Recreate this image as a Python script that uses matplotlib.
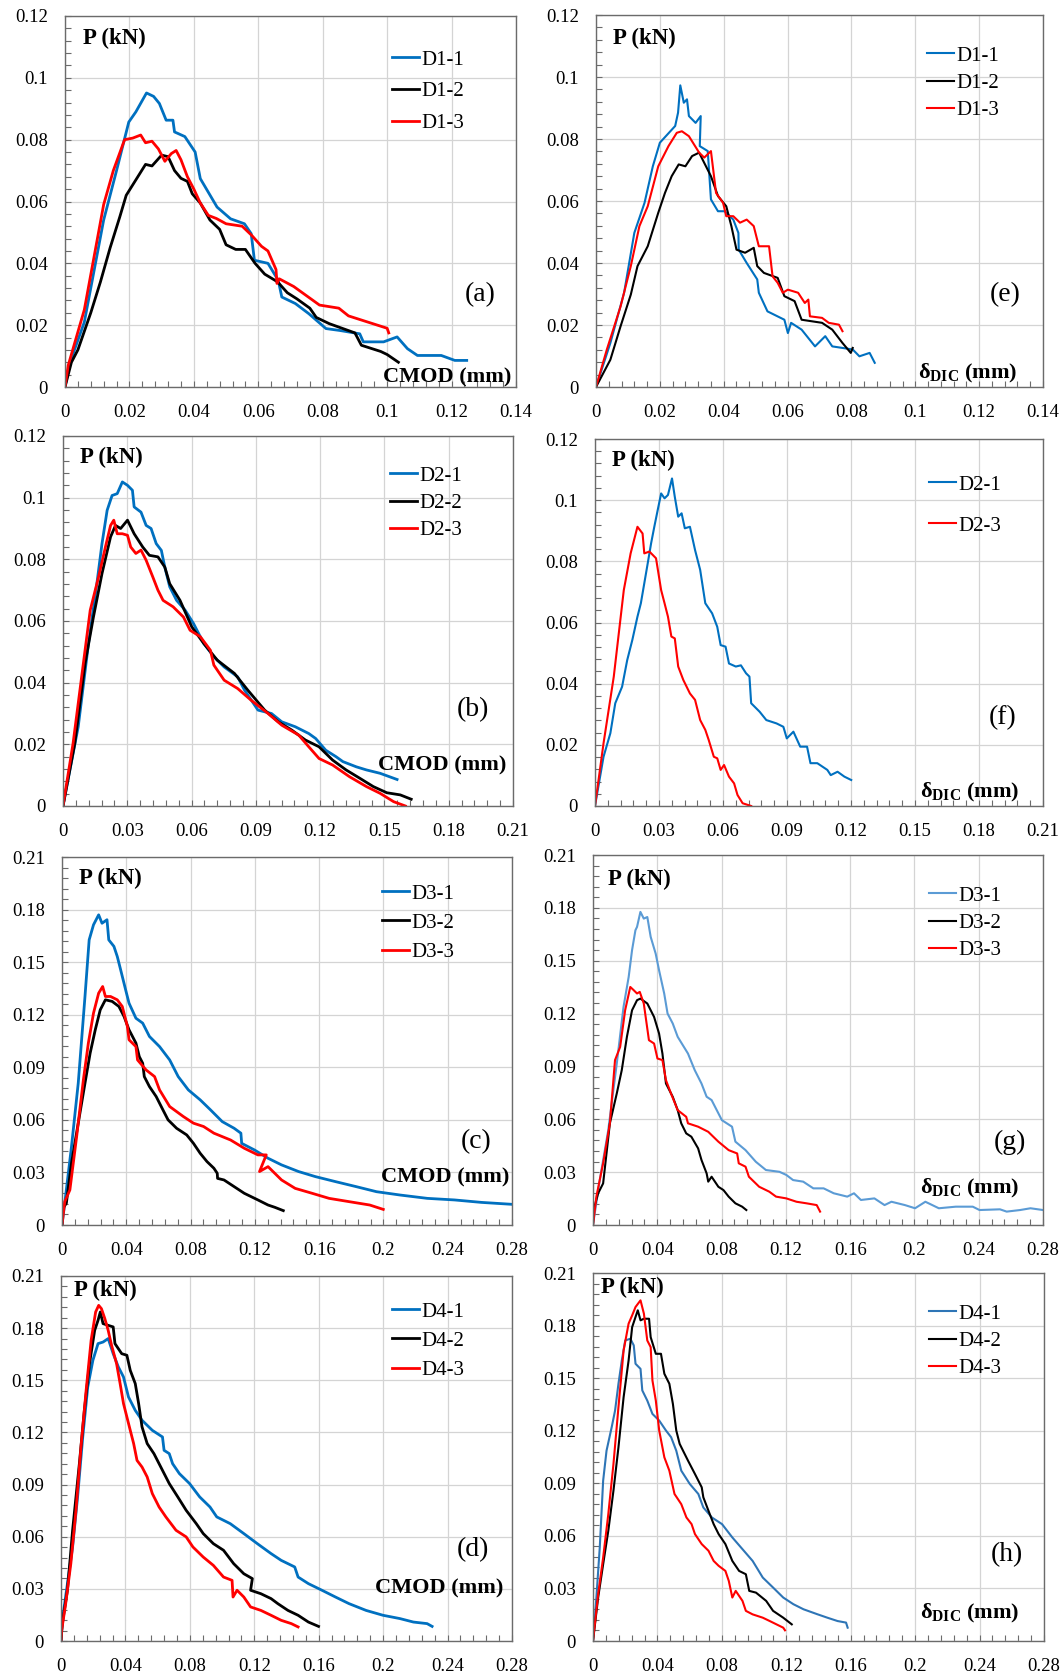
import matplotlib.pyplot as plt
from matplotlib.ticker import MultipleLocator, FuncFormatter

plt.rcParams['font.family'] = ['Liberation Serif', 'DejaVu Serif']
plt.rcParams['mathtext.fontset'] = 'custom'
plt.rcParams['mathtext.rm'] = 'Liberation Serif'
plt.rcParams['mathtext.bf'] = 'Liberation Serif:bold'

BLUE = '#0070C0'
BLUE_L = '#5B9BD5'
BLUE_M = '#2E75B6'
RED = '#FF0000'
BLACK = '#000000'

# ---------------- (a) CMOD, series D1
a1_x = [0, 0.0014, 0.006, 0.012, 0.016, 0.0198, 0.022, 0.0253, 0.0275, 0.0293, 0.0314, 0.0335, 0.034, 0.0372,
        0.0404, 0.042, 0.0472, 0.0514, 0.0557, 0.0578, 0.0588, 0.063, 0.0662, 0.0673, 0.0715, 0.0757, 0.081,
        0.0852, 0.0915, 0.0926, 0.0989, 0.1031, 0.1063, 0.1094, 0.1168, 0.121, 0.1247]
a1_y = [0, 0.0075, 0.021, 0.054, 0.070, 0.0857, 0.089, 0.0951, 0.094, 0.0917, 0.0863, 0.0863, 0.0825, 0.081,
        0.076, 0.0674, 0.0582, 0.0544, 0.0528, 0.0496, 0.041, 0.040, 0.0345, 0.0291, 0.027, 0.0237, 0.0189,
        0.0183, 0.0172, 0.0146, 0.0146, 0.0162, 0.0124, 0.0102, 0.0102, 0.0086, 0.0086]
a2_x = [0, 0.002, 0.004, 0.008, 0.011, 0.014, 0.017, 0.019, 0.022, 0.025, 0.027, 0.030, 0.032, 0.034, 0.036,
        0.038, 0.0395, 0.042, 0.045, 0.048, 0.050, 0.053, 0.056, 0.059, 0.062, 0.066, 0.069, 0.072, 0.074,
        0.076, 0.078, 0.082, 0.086, 0.090, 0.092, 0.095, 0.098, 0.100, 0.1035]
a2_y = [0, 0.008, 0.012, 0.024, 0.034, 0.045, 0.055, 0.062, 0.067, 0.072, 0.0715, 0.075, 0.0745, 0.070, 0.0675,
        0.0665, 0.0625, 0.0595, 0.054, 0.051, 0.046, 0.0445, 0.0445, 0.040, 0.0365, 0.034, 0.0305, 0.0285,
        0.027, 0.0255, 0.0225, 0.0205, 0.019, 0.0175, 0.0135, 0.0125, 0.0115, 0.0105, 0.008]
a3_x = [0, 0.001, 0.006, 0.012, 0.015, 0.0185, 0.021, 0.0235, 0.025, 0.027, 0.029, 0.031, 0.033, 0.0345, 0.036,
        0.038, 0.040, 0.042, 0.0445, 0.047, 0.050, 0.055, 0.058, 0.061, 0.063, 0.0655, 0.0658, 0.0665, 0.071,
        0.075, 0.079, 0.085, 0.088, 0.094, 0.097, 0.100, 0.1005]
a3_y = [0, 0.007, 0.025, 0.059, 0.070, 0.080, 0.0805, 0.0815, 0.079, 0.0795, 0.077, 0.073, 0.0755, 0.0765,
        0.0735, 0.068, 0.064, 0.0595, 0.0555, 0.0545, 0.0528, 0.052, 0.049, 0.0455, 0.044, 0.038, 0.0335, 0.035,
        0.0325, 0.0295, 0.0265, 0.0255, 0.023, 0.021, 0.020, 0.019, 0.0175]

# ---------------- (e) DIC, series D1
e1_x = [0, 0.0045, 0.0088, 0.012, 0.0152, 0.0178, 0.020, 0.0248, 0.0257, 0.0264, 0.0275, 0.0285, 0.0291, 0.0312,
        0.0328, 0.0325, 0.035, 0.036, 0.0382, 0.0403, 0.043, 0.0446, 0.0447, 0.0472, 0.0505, 0.051, 0.0537,
        0.059, 0.0601, 0.0611, 0.0644, 0.0686, 0.0718, 0.074, 0.0804, 0.0825, 0.0857, 0.0873]
e1_y = [0, 0.0142, 0.0304, 0.0497, 0.0594, 0.0712, 0.0788, 0.0842, 0.0885, 0.0973, 0.0917, 0.0928, 0.0874,
        0.0852, 0.0874, 0.0777, 0.0761, 0.0605, 0.0567, 0.0567, 0.054, 0.0497, 0.0443, 0.040, 0.0347, 0.0304,
        0.0244, 0.0217, 0.0174, 0.0207, 0.0185, 0.0131, 0.0164, 0.0131, 0.0121, 0.0099, 0.011, 0.0078]
e2_x = [0, 0.0045, 0.0077, 0.0109, 0.013, 0.0162, 0.0195, 0.0216, 0.0237, 0.0259, 0.028, 0.0301, 0.0323, 0.0339,
        0.036, 0.0382, 0.0408, 0.0424, 0.044, 0.0467, 0.0494, 0.0505, 0.0526, 0.0569, 0.059, 0.0622, 0.0644,
        0.0708, 0.074, 0.0772, 0.0798, 0.0804]
e2_y = [0, 0.0088, 0.0196, 0.0298, 0.039, 0.0454, 0.0562, 0.0626, 0.068, 0.0718, 0.0712, 0.0745, 0.0756, 0.0723,
        0.068, 0.0616, 0.0583, 0.0519, 0.0443, 0.0433, 0.0449, 0.039, 0.0368, 0.0352, 0.0293, 0.0277, 0.0217,
        0.0207, 0.0185, 0.0142, 0.011, 0.0126]
e3_x = [0, 0.0034, 0.0077, 0.0109, 0.0136, 0.0162, 0.0195, 0.0227, 0.0253, 0.0269, 0.0291, 0.0323, 0.0339, 0.036,
        0.0376, 0.0398, 0.0408, 0.043, 0.0451, 0.0472, 0.0494, 0.051, 0.0542, 0.0553, 0.0569, 0.0585, 0.0601,
        0.0633, 0.0654, 0.0665, 0.067, 0.0708, 0.0729, 0.0761, 0.0772]
e3_y = [0, 0.0121, 0.026, 0.039, 0.0519, 0.0583, 0.0712, 0.0777, 0.082, 0.0825, 0.0809, 0.0756, 0.074, 0.0761,
        0.0626, 0.0594, 0.0551, 0.0551, 0.053, 0.054, 0.0519, 0.0454, 0.0454, 0.0357, 0.0336, 0.0304, 0.0314,
        0.0304, 0.0271, 0.0282, 0.0228, 0.0223, 0.0207, 0.0201, 0.018]

# ---------------- (b) CMOD, series D2
b1_x = [0, 0.0071, 0.0119, 0.0158, 0.0182, 0.0206, 0.0229, 0.0253, 0.0277, 0.0301, 0.0324, 0.0332, 0.0364,
        0.0388, 0.0411, 0.0435, 0.0459, 0.0475, 0.0498, 0.053, 0.057, 0.0609, 0.0657, 0.0704, 0.0752, 0.0815,
        0.0847, 0.091, 0.0973, 0.1021, 0.1084, 0.1147, 0.1179, 0.1226, 0.1274, 0.1306, 0.1369, 0.1416, 0.148,
        0.1559]
b1_y = [0, 0.0257, 0.0527, 0.0721, 0.0851, 0.0959, 0.1007, 0.1013, 0.1051, 0.104, 0.1024, 0.097, 0.0953, 0.091,
        0.090, 0.0851, 0.0829, 0.0775, 0.0711, 0.0667, 0.0635, 0.0592, 0.0527, 0.0484, 0.0451, 0.0419, 0.0376,
        0.0311, 0.030, 0.0273, 0.0257, 0.0235, 0.0219, 0.0181, 0.016, 0.0144, 0.0127, 0.0117, 0.0106, 0.0086]
b2_x = [0, 0.0055, 0.0103, 0.0142, 0.0182, 0.0222, 0.0245, 0.0269, 0.0301, 0.0332, 0.0372, 0.0403, 0.0443, 0.0475,
        0.0498, 0.0546, 0.0601, 0.0657, 0.072, 0.080, 0.0862, 0.0941, 0.1005, 0.1068, 0.1131, 0.1195, 0.1258,
        0.1321, 0.1385, 0.1448, 0.1511, 0.1574, 0.1625]
b2_y = [0, 0.0203, 0.0462, 0.0613, 0.0754, 0.0873, 0.091, 0.090, 0.0927, 0.0883, 0.084, 0.0813, 0.0808, 0.0775,
        0.0721, 0.0667, 0.0581, 0.0527, 0.0473, 0.043, 0.0376, 0.0311, 0.0273, 0.0246, 0.0214, 0.0192, 0.0149,
        0.0117, 0.009, 0.0063, 0.0043, 0.0036, 0.0022]
b3_x = [0, 0.0047, 0.0087, 0.0127, 0.0166, 0.0198, 0.0222, 0.0237, 0.0253, 0.0277, 0.0301, 0.0316, 0.034, 0.0364,
        0.0388, 0.0419, 0.0443, 0.0467, 0.0514, 0.0562, 0.0593, 0.0641, 0.0688, 0.0704, 0.0752, 0.0815, 0.0878,
        0.0957, 0.1021, 0.110, 0.1147, 0.1195, 0.1258, 0.1337, 0.1416, 0.148, 0.1543, 0.1598]
b3_y = [0, 0.0203, 0.0419, 0.0635, 0.0743, 0.084, 0.091, 0.0927, 0.0883, 0.0883, 0.0878, 0.084, 0.0819, 0.083,
        0.0797, 0.0743, 0.070, 0.0667, 0.0646, 0.0613, 0.057, 0.0549, 0.0505, 0.0457, 0.0408, 0.0381, 0.0343,
        0.030, 0.0262, 0.023, 0.0192, 0.0154, 0.0133, 0.0095, 0.0063, 0.0041, 0.0014, 0]

# ---------------- (f) DIC, series D2
f1_x = [0, 0.004, 0.0072, 0.0095, 0.0127, 0.0151, 0.0175, 0.0199, 0.0215, 0.0231, 0.0247, 0.0263, 0.0278, 0.0294,
        0.031, 0.0326, 0.0342, 0.0361, 0.0374, 0.039, 0.0406, 0.0421, 0.0445, 0.0469, 0.0493, 0.0517, 0.0549,
        0.0573, 0.0589, 0.0612, 0.0628, 0.066, 0.0684, 0.0708, 0.0724, 0.0732, 0.0772, 0.0803, 0.0851, 0.0883,
        0.0899, 0.093, 0.0962, 0.0994, 0.101, 0.1042, 0.1089, 0.1105, 0.1137, 0.1169, 0.1201]
f1_y = [0, 0.0161, 0.0238, 0.0336, 0.039, 0.0477, 0.0543, 0.0619, 0.0663, 0.0728, 0.0793, 0.0859, 0.0913, 0.0968,
        0.1022, 0.1006, 0.1017, 0.1071, 0.1011, 0.0946, 0.0957, 0.0908, 0.0913, 0.0837, 0.0772, 0.0663, 0.063,
        0.0586, 0.0526, 0.0521, 0.0466, 0.0456, 0.046, 0.0434, 0.0423, 0.0336, 0.0308, 0.0281, 0.027, 0.0259,
        0.0221, 0.0243, 0.0194, 0.0194, 0.014, 0.014, 0.0118, 0.0101, 0.0112, 0.0096, 0.0085]
f3_x = [0, 0.004, 0.0088, 0.0135, 0.0167, 0.0199, 0.0223, 0.0231, 0.0255, 0.0286, 0.031, 0.0326, 0.0342, 0.0358,
        0.0374, 0.039, 0.0414, 0.0445, 0.0469, 0.0493, 0.0517, 0.0533, 0.0557, 0.0573, 0.0589, 0.0605, 0.0628,
        0.0652, 0.0668, 0.0692, 0.0732]
f3_y = [0, 0.0205, 0.0423, 0.0706, 0.0826, 0.0913, 0.0891, 0.0826, 0.0832, 0.081, 0.0706, 0.0663, 0.0619, 0.0554,
        0.0548, 0.0456, 0.0412, 0.0368, 0.0347, 0.0281, 0.0249, 0.0216, 0.0161, 0.0156, 0.0118, 0.0134, 0.0096,
        0.0074, 0.0036, 0.0009, 0]

# ---------------- (c) CMOD, series D3
c1_x = [0, 0.0017, 0.0059, 0.0101, 0.0143, 0.0169, 0.0196, 0.0228, 0.0249, 0.028, 0.0291, 0.0323, 0.0344, 0.0365,
        0.0396, 0.0417, 0.046, 0.0502, 0.0544, 0.0607, 0.067, 0.0723, 0.0786, 0.086, 0.0924, 0.0997, 0.1071,
        0.1113, 0.1118, 0.1198, 0.1282, 0.1366, 0.1472, 0.1577, 0.1704, 0.183, 0.1957, 0.2104, 0.2273, 0.2442,
        0.261, 0.28]
c1_y = [0, 0.0124, 0.0447, 0.0809, 0.1304, 0.1627, 0.1713, 0.177, 0.1722, 0.1742, 0.1627, 0.159, 0.1532, 0.1456,
        0.1342, 0.1266, 0.118, 0.1152, 0.1076, 0.1018, 0.0942, 0.0847, 0.0771, 0.0714, 0.0657, 0.059, 0.0552,
        0.0524, 0.0466, 0.0428, 0.0381, 0.0343, 0.0305, 0.0276, 0.0247, 0.0219, 0.019, 0.0171, 0.0152, 0.0143,
        0.0129, 0.0118]
c2_x = [0, 0.0006, 0.0027, 0.0059, 0.0101, 0.0143, 0.0175, 0.0207, 0.0238, 0.027, 0.0312, 0.0354, 0.0386, 0.0417,
        0.046, 0.0481, 0.0502, 0.0512, 0.0544, 0.0586, 0.0628, 0.066, 0.0713, 0.0776, 0.0818, 0.086, 0.0902,
        0.0945, 0.0966, 0.0968, 0.1008, 0.1071, 0.1134, 0.1219, 0.1282, 0.1324, 0.1377]
c2_y = [0, 0.0095, 0.0124, 0.0352, 0.0581, 0.0809, 0.098, 0.1114, 0.1228, 0.1285, 0.1276, 0.1247, 0.119, 0.1114,
        0.1038, 0.0961, 0.0923, 0.0847, 0.079, 0.0733, 0.0657, 0.060, 0.0552, 0.0514, 0.0466, 0.0409, 0.0362,
        0.0324, 0.0295, 0.0266, 0.0257, 0.0219, 0.0181, 0.0143, 0.0114, 0.0101, 0.0082]
c3_x = [0, 0.0017, 0.0049, 0.0091, 0.0133, 0.0164, 0.0196, 0.0228, 0.0253, 0.027, 0.0302, 0.0344, 0.0375, 0.0407,
        0.0417, 0.046, 0.047, 0.0523, 0.0576, 0.0607, 0.067, 0.0755, 0.0818, 0.0881, 0.0945, 0.1049, 0.1134,
        0.1219, 0.1271, 0.1229, 0.1282, 0.1324, 0.1366, 0.1451, 0.1556, 0.1662, 0.1788, 0.1915, 0.1999]
c3_y = [0, 0.0133, 0.020, 0.0504, 0.0828, 0.1038, 0.1209, 0.1323, 0.1361, 0.1304, 0.1304, 0.1285, 0.1247, 0.1133,
        0.1057, 0.1018, 0.0942, 0.0885, 0.0847, 0.0771, 0.0676, 0.0619, 0.0581, 0.0562, 0.0524, 0.0485, 0.0438,
        0.040, 0.040, 0.0305, 0.0333, 0.0295, 0.0257, 0.0209, 0.0181, 0.0152, 0.0133, 0.0114, 0.0089]

# ---------------- (g) DIC, series D3
g1_x = [0, 0.0042, 0.0095, 0.0148, 0.019, 0.0222, 0.0243, 0.0264, 0.0274, 0.0295, 0.0316, 0.0338, 0.0359, 0.039,
        0.0411, 0.0443, 0.0464, 0.0496, 0.0527, 0.0591, 0.0633, 0.0675, 0.0707, 0.0738, 0.0802, 0.0865, 0.0886,
        0.0949, 0.1013, 0.1076, 0.116, 0.1203, 0.1245, 0.1308, 0.1371, 0.1435, 0.1498, 0.1582, 0.1624, 0.1667,
        0.1751, 0.1814, 0.1857, 0.1941, 0.2004, 0.2068, 0.2152, 0.2257, 0.2363, 0.2405, 0.2532, 0.2574, 0.2658,
        0.2722, 0.28]
g1_y = [0, 0.0255, 0.0539, 0.0917, 0.1238, 0.1408, 0.156, 0.1673, 0.1692, 0.1777, 0.1739, 0.1748, 0.1635, 0.154,
        0.1446, 0.1314, 0.120, 0.1144, 0.1068, 0.0973, 0.0879, 0.0803, 0.0728, 0.0709, 0.0595, 0.0558, 0.0473,
        0.0425, 0.0359, 0.0312, 0.0302, 0.0284, 0.0255, 0.0246, 0.0208, 0.0208, 0.018, 0.0161, 0.018, 0.0142,
        0.0151, 0.0113, 0.0132, 0.0113, 0.0095, 0.0132, 0.0095, 0.0104, 0.0104, 0.0085, 0.0089, 0.0076, 0.0085,
        0.0095, 0.0085]
g2_x = [0, 0.0005, 0.0032, 0.0063, 0.0084, 0.0105, 0.0148, 0.0179, 0.0211, 0.0243, 0.0274, 0.0295, 0.0338, 0.038,
        0.0411, 0.0432, 0.0454, 0.0496, 0.0527, 0.0549, 0.058, 0.0612, 0.0654, 0.0675, 0.0707, 0.0717, 0.0738,
        0.078, 0.0812, 0.0844, 0.0886, 0.0928, 0.0954]
g2_y = [0, 0.009, 0.018, 0.0236, 0.0406, 0.0577, 0.0747, 0.0879, 0.1068, 0.1219, 0.1276, 0.1285, 0.1257, 0.1181,
        0.1087, 0.0973, 0.0803, 0.0728, 0.0652, 0.0577, 0.052, 0.0501, 0.0435, 0.0369, 0.0293, 0.0246, 0.0274,
        0.0217, 0.0198, 0.0161, 0.0123, 0.0104, 0.0085]
g3_x = [0, 0.0021, 0.0063, 0.0105, 0.0137, 0.0169, 0.020, 0.0232, 0.0253, 0.0274, 0.0291, 0.0316, 0.0348, 0.038,
        0.0401, 0.0432, 0.0454, 0.0485, 0.0527, 0.058, 0.0591, 0.0654, 0.0717, 0.078, 0.0844, 0.0897, 0.0907,
        0.0949, 0.097, 0.1034, 0.1097, 0.1139, 0.1203, 0.1266, 0.1329, 0.1392, 0.1413]
g3_y = [0, 0.0161, 0.035, 0.0577, 0.0936, 0.1011, 0.1219, 0.1351, 0.1333, 0.1314, 0.1323, 0.1257, 0.1049, 0.103,
        0.0945, 0.0936, 0.0822, 0.0747, 0.0652, 0.0614, 0.0577, 0.0558, 0.0529, 0.0473, 0.0425, 0.0406, 0.035,
        0.0331, 0.0274, 0.0217, 0.0189, 0.0161, 0.0151, 0.0132, 0.0123, 0.0113, 0.0076]

# ---------------- (d) CMOD, series D4
d1_x = [0, 0.0008, 0.004, 0.0072, 0.0103, 0.0135, 0.0166, 0.0198, 0.023, 0.0261, 0.0293, 0.0324, 0.0356, 0.0388,
        0.0419, 0.0461, 0.0503, 0.0567, 0.063, 0.064, 0.0672, 0.0693, 0.0735, 0.0798, 0.0861, 0.0925, 0.0967,
        0.1051, 0.1135, 0.1219, 0.1304, 0.1367, 0.1451, 0.1472, 0.1536, 0.162, 0.1704, 0.1788, 0.1894, 0.1999,
        0.2104, 0.2188, 0.2273, 0.2304]
d1_y = [0, 0.0119, 0.033, 0.0541, 0.0829, 0.1174, 0.1461, 0.1615, 0.1711, 0.172, 0.174, 0.1653, 0.1577, 0.1519,
        0.1404, 0.1327, 0.127, 0.1212, 0.1174, 0.1097, 0.1078, 0.102, 0.0963, 0.0906, 0.0829, 0.0771, 0.0714,
        0.0675, 0.0618, 0.056, 0.0503, 0.0464, 0.0426, 0.0368, 0.033, 0.0292, 0.0253, 0.0215, 0.0176, 0.0148,
        0.0129, 0.0109, 0.010, 0.0084]
d2_x = [0, 0.0008, 0.004, 0.0072, 0.0114, 0.0145, 0.0177, 0.0209, 0.023, 0.0244, 0.0261, 0.0293, 0.0324, 0.0335,
        0.0377, 0.0409, 0.043, 0.0461, 0.0482, 0.0503, 0.0535, 0.0577, 0.063, 0.0672, 0.0725, 0.0777, 0.084,
        0.0883, 0.0946, 0.1009, 0.1072, 0.1135, 0.1188, 0.1177, 0.1241, 0.1304, 0.1346, 0.1409, 0.1472, 0.1536,
        0.1599]
d2_y = [0, 0.010, 0.0292, 0.0637, 0.102, 0.1327, 0.1596, 0.1787, 0.1845, 0.1893, 0.1826, 0.1816, 0.1807, 0.1711,
        0.1653, 0.1644, 0.1557, 0.1481, 0.1366, 0.1232, 0.1136, 0.1078, 0.0982, 0.0906, 0.0829, 0.0752, 0.0675,
        0.0618, 0.056, 0.0522, 0.0445, 0.0387, 0.0359, 0.0292, 0.0272, 0.0244, 0.0215, 0.0176, 0.0148, 0.0109,
        0.0084]
d3_x = [0, 0.0004, 0.0029, 0.0061, 0.0093, 0.0124, 0.0156, 0.0187, 0.0215, 0.0234, 0.0251, 0.0272, 0.0293, 0.0314,
        0.0345, 0.0367, 0.0388, 0.0409, 0.043, 0.0451, 0.0472, 0.0503, 0.0535, 0.0567, 0.0609, 0.0651, 0.0714,
        0.0777, 0.0819, 0.0883, 0.0946, 0.1009, 0.1062, 0.1068, 0.1093, 0.1135, 0.1177, 0.1241, 0.1304, 0.1367,
        0.143, 0.1472]
d3_y = [0, 0.0061, 0.0215, 0.0445, 0.0752, 0.1116, 0.1442, 0.173, 0.1893, 0.1931, 0.1912, 0.1855, 0.1787, 0.1701,
        0.1596, 0.1481, 0.1366, 0.1289, 0.1212, 0.1136, 0.1039, 0.1001, 0.0944, 0.0848, 0.0771, 0.0714, 0.0637,
        0.0599, 0.0541, 0.0483, 0.0435, 0.0368, 0.0349, 0.0253, 0.0292, 0.0253, 0.0196, 0.0176, 0.0148, 0.0119,
        0.010, 0.0081]

# ---------------- (h) DIC, series D4
h1_x = [0, 0.0021, 0.0042, 0.0063, 0.0084, 0.0116, 0.0137, 0.0158, 0.0179, 0.020, 0.0232, 0.0253, 0.0264, 0.0295,
        0.0306, 0.0337, 0.0369, 0.0411, 0.0453, 0.0485, 0.0517, 0.0548, 0.0601, 0.0654, 0.0685, 0.0738, 0.0801,
        0.0865, 0.0928, 0.0991, 0.1054, 0.1118, 0.1181, 0.1244, 0.1307, 0.1392, 0.1455, 0.1518, 0.1571, 0.1581]
h1_y = [0, 0.0248, 0.0534, 0.0915, 0.1086, 0.122, 0.1315, 0.1468, 0.1601, 0.1715, 0.1725, 0.1687, 0.1582, 0.1553,
        0.143, 0.1372, 0.1296, 0.1258, 0.1201, 0.1163, 0.1086, 0.0972, 0.0896, 0.0839, 0.0762, 0.0705, 0.0667,
        0.0591, 0.0524, 0.0457, 0.0362, 0.0305, 0.0248, 0.021, 0.0181, 0.0153, 0.0133, 0.0114, 0.0105, 0.0076]
h2_x = [0, 0.0032, 0.0063, 0.0095, 0.0127, 0.0158, 0.019, 0.0221, 0.0243, 0.0264, 0.0278, 0.0295, 0.0316, 0.0348,
        0.0358, 0.039, 0.0422, 0.0443, 0.0474, 0.0496, 0.0517, 0.0538, 0.0559, 0.059, 0.0633, 0.0675, 0.0685,
        0.0717, 0.0749, 0.078, 0.0822, 0.0865, 0.0907, 0.0949, 0.097, 0.1012, 0.1075, 0.1118, 0.1181, 0.1234]
h2_y = [0, 0.0248, 0.0438, 0.0629, 0.0858, 0.1105, 0.1391, 0.1601, 0.1791, 0.1849, 0.1887, 0.183, 0.1839, 0.1839,
        0.1734, 0.1639, 0.1639, 0.1525, 0.1468, 0.1353, 0.1201, 0.1125, 0.1086, 0.1029, 0.0953, 0.0877, 0.082,
        0.0743, 0.0667, 0.061, 0.0553, 0.0457, 0.040, 0.0381, 0.0286, 0.0276, 0.0229, 0.0172, 0.0133, 0.0095]
h3_x = [0, 0.0032, 0.0063, 0.0095, 0.0127, 0.0158, 0.019, 0.0221, 0.0243, 0.0264, 0.0295, 0.0316, 0.0337, 0.0358,
        0.0369, 0.039, 0.0411, 0.0443, 0.0474, 0.0506, 0.0548, 0.058, 0.0612, 0.0633, 0.0675, 0.0717, 0.0749,
        0.078, 0.0822, 0.0843, 0.0865, 0.0886, 0.0928, 0.0949, 0.0991, 0.1054, 0.1097, 0.1139, 0.1181, 0.1192]
h3_y = [0, 0.0267, 0.0476, 0.0724, 0.101, 0.1334, 0.1658, 0.1811, 0.1858, 0.1906, 0.1944, 0.1868, 0.1715, 0.1677,
        0.1487, 0.1372, 0.1201, 0.1048, 0.0972, 0.0839, 0.0781, 0.0705, 0.0667, 0.061, 0.0553, 0.0515, 0.0457,
        0.0429, 0.040, 0.0343, 0.0248, 0.0286, 0.0229, 0.0172, 0.0152, 0.0133, 0.0114, 0.0095, 0.0076, 0.0061]

W, H = 1064, 1675
fig = plt.figure(figsize=(W / 100, H / 100), dpi=100)
SPINE = '#6b6b6b'
CMOD = 'CMOD (mm)'
DIC = r'$\mathbf{δ_{DIC}}$ (mm)'

# box: left, right, top, bottom in pixels; leg: handle-left, first-row centre; pk: P(kN) left, centre;
# xl: x label right, centre; tag: panel letter centre
panels = [
    dict(box=(65, 516, 16, 387), xmax=0.14, xs=0.02, ymax=0.12, ys=0.02, lw=2.0,
         series=[(a1_x, a1_y, BLUE, 'D1-1'), (a2_x, a2_y, BLACK, 'D1-2'), (a3_x, a3_y, RED, 'D1-3')],
         leg=(392, 57), sp=0.59, pk=(83, 38), xl=(511, 377), xlab=CMOD, tag=(480, 295), t='(a)'),
    dict(box=(596, 1043, 15, 387), xmax=0.14, xs=0.02, ymax=0.12, ys=0.02, lw=1.5,
         series=[(e1_x, e1_y, BLUE, 'D1-1'), (e2_x, e2_y, BLACK, 'D1-2'), (e3_x, e3_y, RED, 'D1-3')],
         leg=(927, 53), sp=0.37, pk=(613, 38), xl=(1017, 373), xlab=DIC, tag=(1005, 295), t='(e)'),
    dict(box=(63, 513, 436, 806), xmax=0.21, xs=0.03, ymax=0.12, ys=0.02, lw=2.0,
         series=[(b1_x, b1_y, BLUE, 'D2-1'), (b2_x, b2_y, BLACK, 'D2-2'), (b3_x, b3_y, RED, 'D2-3')],
         leg=(390, 473), sp=0.37, pk=(80, 457), xl=(506, 765), xlab=CMOD, tag=(473, 710), t='(b)'),
    dict(box=(595, 1043, 439, 806), xmax=0.21, xs=0.03, ymax=0.12, ys=0.02, lw=1.5,
         series=[(f1_x, f1_y, BLUE, 'D2-1'), (f3_x, f3_y, RED, 'D2-3')],
         leg=(929, 482), sp=1.03, pk=(612, 460), xl=(1019, 792), xlab=DIC, tag=(1003, 718), t='(f)'),
    dict(box=(62, 512, 857, 1225), xmax=0.28, xs=0.04, ymax=0.21, ys=0.03, lw=2.0,
         series=[(c1_x, c1_y, BLUE, 'D3-1'), (c2_x, c2_y, BLACK, 'D3-2'), (c3_x, c3_y, RED, 'D3-3')],
         leg=(382, 891), sp=0.46, pk=(79, 878), xl=(509, 1177), xlab=CMOD, tag=(476, 1142), t='(c)'),
    dict(box=(593, 1043, 855, 1225), xmax=0.28, xs=0.04, ymax=0.21, ys=0.03, lw=1.5,
         series=[(g1_x, g1_y, BLUE_L, 'D3-1'), (g2_x, g2_y, BLACK, 'D3-2'), (g3_x, g3_y, RED, 'D3-3')],
         leg=(929, 893), sp=0.37, pk=(608, 879), xl=(1019, 1188), xlab=DIC, tag=(1010, 1142), t='(g)'),
    dict(box=(61, 512, 1276, 1641), xmax=0.28, xs=0.04, ymax=0.21, ys=0.03, lw=2.0,
         series=[(d1_x, d1_y, BLUE, 'D4-1'), (d2_x, d2_y, BLACK, 'D4-2'), (d3_x, d3_y, RED, 'D4-3')],
         leg=(392, 1309), sp=0.46, pk=(74, 1290), xl=(503, 1588), xlab=CMOD, tag=(473, 1550), t='(d)'),
    dict(box=(593, 1044, 1273, 1641), xmax=0.28, xs=0.04, ymax=0.21, ys=0.03, lw=1.5,
         series=[(h1_x, h1_y, BLUE_M, 'D4-1'), (h2_x, h2_y, BLACK, 'D4-2'), (h3_x, h3_y, RED, 'D4-3')],
         leg=(929, 1311), sp=0.37, pk=(601, 1287), xl=(1019, 1613), xlab=DIC, tag=(1007, 1555), t='(h)'),
]


def fx(px):
    return px / W


def fy(py):
    return 1 - py / H


fmt = FuncFormatter(lambda v, p: '%g' % round(v, 4))

for p in panels:
    l, r, t, b = p['box']
    ax = fig.add_axes([fx(l), fy(b), (r - l) / W, (b - t) / H])
    for x, y, c, lab in p['series']:
        ax.plot(x, y, color=c, lw=p['lw'], label=lab, solid_joinstyle='round')
    ax.set_xlim(0, p['xmax'])
    ax.set_ylim(0, p['ymax'])
    ax.xaxis.set_major_locator(MultipleLocator(p['xs']))
    ax.xaxis.set_minor_locator(MultipleLocator(p['xs'] / 5))
    ax.yaxis.set_major_locator(MultipleLocator(p['ys']))
    ax.yaxis.set_minor_locator(MultipleLocator(p['ys'] / 5))
    ax.xaxis.set_major_formatter(fmt)
    ax.yaxis.set_major_formatter(fmt)
    ax.grid(True, which='major', color='#d4d4d4', lw=0.9)
    ax.set_axisbelow(True)
    ax.tick_params(which='both', direction='in', length=4, width=0.8, color=SPINE,
                   labelsize=13.5, top=False, right=False)
    ax.tick_params(axis='x', pad=12.5)
    ax.tick_params(axis='y', pad=12.5)
    for s in ax.spines.values():
        s.set_color(SPINE)
        s.set_linewidth(1.0)

    lx, ly = p['leg']
    ax.legend(loc='upper left', bbox_to_anchor=(fx(lx), fy(ly - 7)), bbox_transform=fig.transFigure,
              frameon=False, fontsize=15, handlelength=1.3, handletextpad=0.1, borderpad=0,
              borderaxespad=0, labelspacing=p['sp'])

    fig.text(fx(p['pk'][0]), fy(p['pk'][1]), 'P (kN)', fontsize=16.5, fontweight='bold',
             ha='left', va='center')
    fig.text(fx(p['xl'][0]), fy(p['xl'][1]), p['xlab'], fontsize=16, fontweight='bold',
             ha='right', va='center')
    fig.text(fx(p['tag'][0]), fy(p['tag'][1]), p['t'], fontsize=20, ha='center', va='center')

fig.savefig('out.png', dpi=100)
